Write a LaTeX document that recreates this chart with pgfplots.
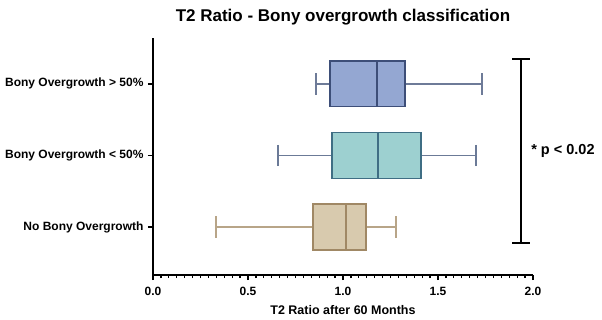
\documentclass[border=0pt]{standalone}
\usepackage{pgfplots}
\pgfplotsset{compat=1.18}
\usepgfplotslibrary{statistics}
\usepackage{fontspec}
\setmainfont{Liberation Sans}

\definecolor{hiFill}{HTML}{94A7D2}
\definecolor{hiEdge}{HTML}{3D4E78}
\definecolor{hiWhisk}{HTML}{6E7B98}
\definecolor{loFill}{HTML}{9DD0D0}
\definecolor{loEdge}{HTML}{3F6E84}
\definecolor{loWhisk}{HTML}{6B7A97}
\definecolor{noFill}{HTML}{D8CAAE}
\definecolor{noEdge}{HTML}{A08865}
\definecolor{noWhisk}{HTML}{B8A588}

\begin{document}
\begin{tikzpicture}
\begin{axis}[
 at={(0,0)},anchor=south west,
 scale only axis,width=380pt,height=237pt,
 xmin=0,xmax=2,ymin=0.33,ymax=3.64,
 clip=false,
 axis x line*=bottom,axis y line*=left,
 axis line style={line width=2pt,black},
 xtick={0,0.5,1,1.5,2},minor x tick num=11,
 ytick={1,2,3},
 yticklabels={No Bony Overgrowth,Bony Overgrowth < 50\%,Bony Overgrowth > 50\%},
 tick align=outside,major tick length=5pt,minor tick length=3pt,
 major tick style={line width=1.6pt,black},
 minor tick style={line width=1.3pt,black},
 xticklabel style={yshift=-4pt,/pgf/number format/.cd,fixed,fixed zerofill,precision=1,assume math mode=true},
 tick label style={font=\fontsize{12}{14}\selectfont\bfseries},
 yticklabel style={xshift=-1pt},
 xlabel={T2 Ratio after 60 Months},
 xlabel style={font=\fontsize{12.5}{14}\selectfont\bfseries,yshift=-3pt},
 title={T2 Ratio - Bony overgrowth classification},
 title style={font=\fontsize{17}{19}\selectfont\bfseries,yshift=3pt},
 boxplot/draw direction=x,
 boxplot/box extend=0.64,
 boxplot/whisker extend=0.3,
]
\addplot[draw=noEdge,fill=noFill,line width=1.5pt,
 boxplot prepared={draw position=1,lower whisker=0.332,lower quartile=0.842,
  median=1.016,upper quartile=1.121,upper whisker=1.279},
 boxplot/every whisker/.style={draw=noWhisk,line width=1.5pt}]
 coordinates {};
\addplot[draw=loEdge,fill=loFill,line width=1.5pt,
 boxplot prepared={draw position=2,lower whisker=0.658,lower quartile=0.942,
  median=1.184,upper quartile=1.411,upper whisker=1.70},
 boxplot/every whisker/.style={draw=loWhisk,line width=1.5pt}]
 coordinates {};
\addplot[draw=hiEdge,fill=hiFill,line width=1.5pt,
 boxplot prepared={draw position=3,lower whisker=0.858,lower quartile=0.932,
  median=1.179,upper quartile=1.326,upper whisker=1.732},
 boxplot/every whisker/.style={draw=hiWhisk,line width=1.5pt}]
 coordinates {};
% significance bracket
\addplot[black,line width=2pt] coordinates {(1.937,3.35) (1.937,0.776)};
\addplot[black,line width=2pt] coordinates {(1.89,3.35) (1.985,3.35)};
\addplot[black,line width=2pt] coordinates {(1.89,0.776) (1.985,0.776)};
\node[anchor=west,font=\fontsize{14.5}{16}\selectfont\bfseries,inner sep=0pt]
 at (axis cs:1.99,2.06) {* p < 0.02};
\end{axis}
\path[use as bounding box] (-153pt,-44pt) rectangle (449pt,275pt);
\end{tikzpicture}
\end{document}
